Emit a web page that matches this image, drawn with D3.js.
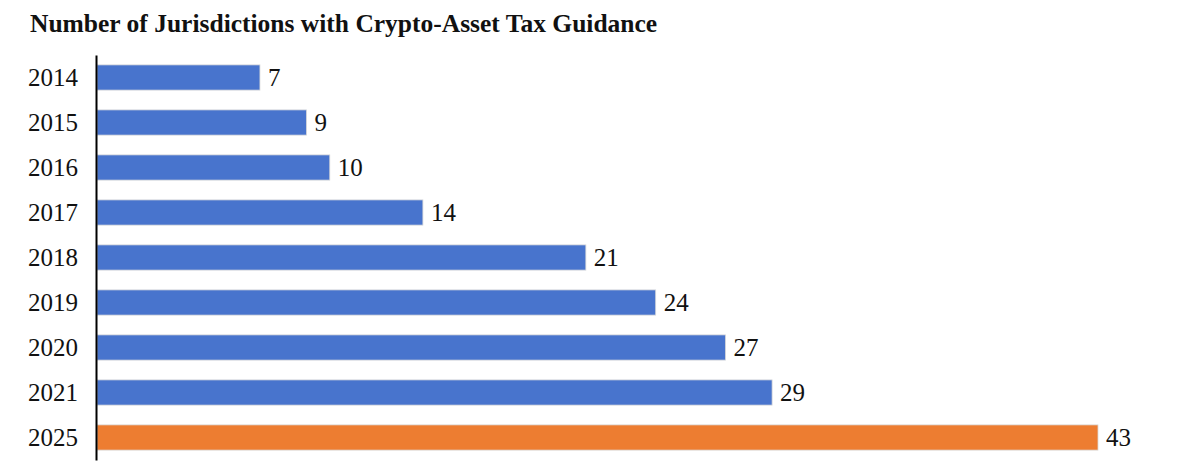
<!DOCTYPE html>
<html lang="en">
<head>
    <meta charset="UTF-8">
    <title>Crypto-Asset Tax Guidance</title>
    <script src="https://d3js.org/d3.v7.min.js"></script>
    <style>
        body {
            margin: 0;
            padding: 0;
            background: white;
        }
        svg {
            display: block;
        }
        text {
            font-family: "Liberation Serif", "Times New Roman", serif;
        }
    </style>
</head>
<body>
    <svg id="chart" width="1200" height="474"></svg>

    <script>
        const years = ["2014", "2015", "2016", "2017", "2018", "2019", "2020", "2021", "2025"];
        const counts = [7, 9, 10, 14, 21, 24, 27, 29, 43];
        const highlightYear = "2025";

        const svg = d3.select("#chart");
        const plotLeft = 97, plotTop = 55, plotBottom = 460;

        const x = d3.scaleLinear()
            .domain([0, 43])
            .range([plotLeft, 1098]);

        const y = d3.scaleBand()
            .domain(years)
            .range([plotTop, plotBottom])
            .paddingInner(0.44)
            .paddingOuter(0.22);

        svg.append("text")
            .attr("x", 30)
            .attr("y", 32)
            .attr("font-size", "25.5px")
            .attr("font-weight", "bold")
            .attr("fill", "#111")
            .text("Number of Jurisdictions with Crypto-Asset Tax Guidance");

        const data = years.map((yr, i) => ({ year: yr, value: counts[i] }));

        svg.selectAll("rect.bar")
            .data(data)
            .enter().append("rect")
            .attr("class", "bar")
            .attr("x", x(0))
            .attr("y", d => y(d.year))
            .attr("width", d => x(d.value) - x(0))
            .attr("height", y.bandwidth())
            .attr("fill", d => d.year === highlightYear ? "#ED7D31" : "#4874CD")
            .attr("stroke", "#d9d9d9")
            .attr("stroke-width", 0.8);

        svg.selectAll("text.value")
            .data(data)
            .enter().append("text")
            .attr("class", "value")
            .attr("x", d => x(d.value) + 8)
            .attr("y", d => y(d.year) + y.bandwidth() / 2)
            .attr("dy", "0.35em")
            .attr("font-size", "25px")
            .attr("fill", "#111")
            .text(d => d.value);

        const axis = d3.axisLeft(y).tickSize(0).tickPadding(18);
        const g = svg.append("g")
            .attr("transform", `translate(${plotLeft - 1},0)`)
            .call(axis);
        g.select(".domain")
            .attr("stroke", "#000")
            .attr("stroke-width", 2);
        g.selectAll(".tick text")
            .attr("font-family", "Liberation Serif, Times New Roman, serif")
            .attr("font-size", "25px")
            .attr("fill", "#111");
    </script>
</body>
</html>
